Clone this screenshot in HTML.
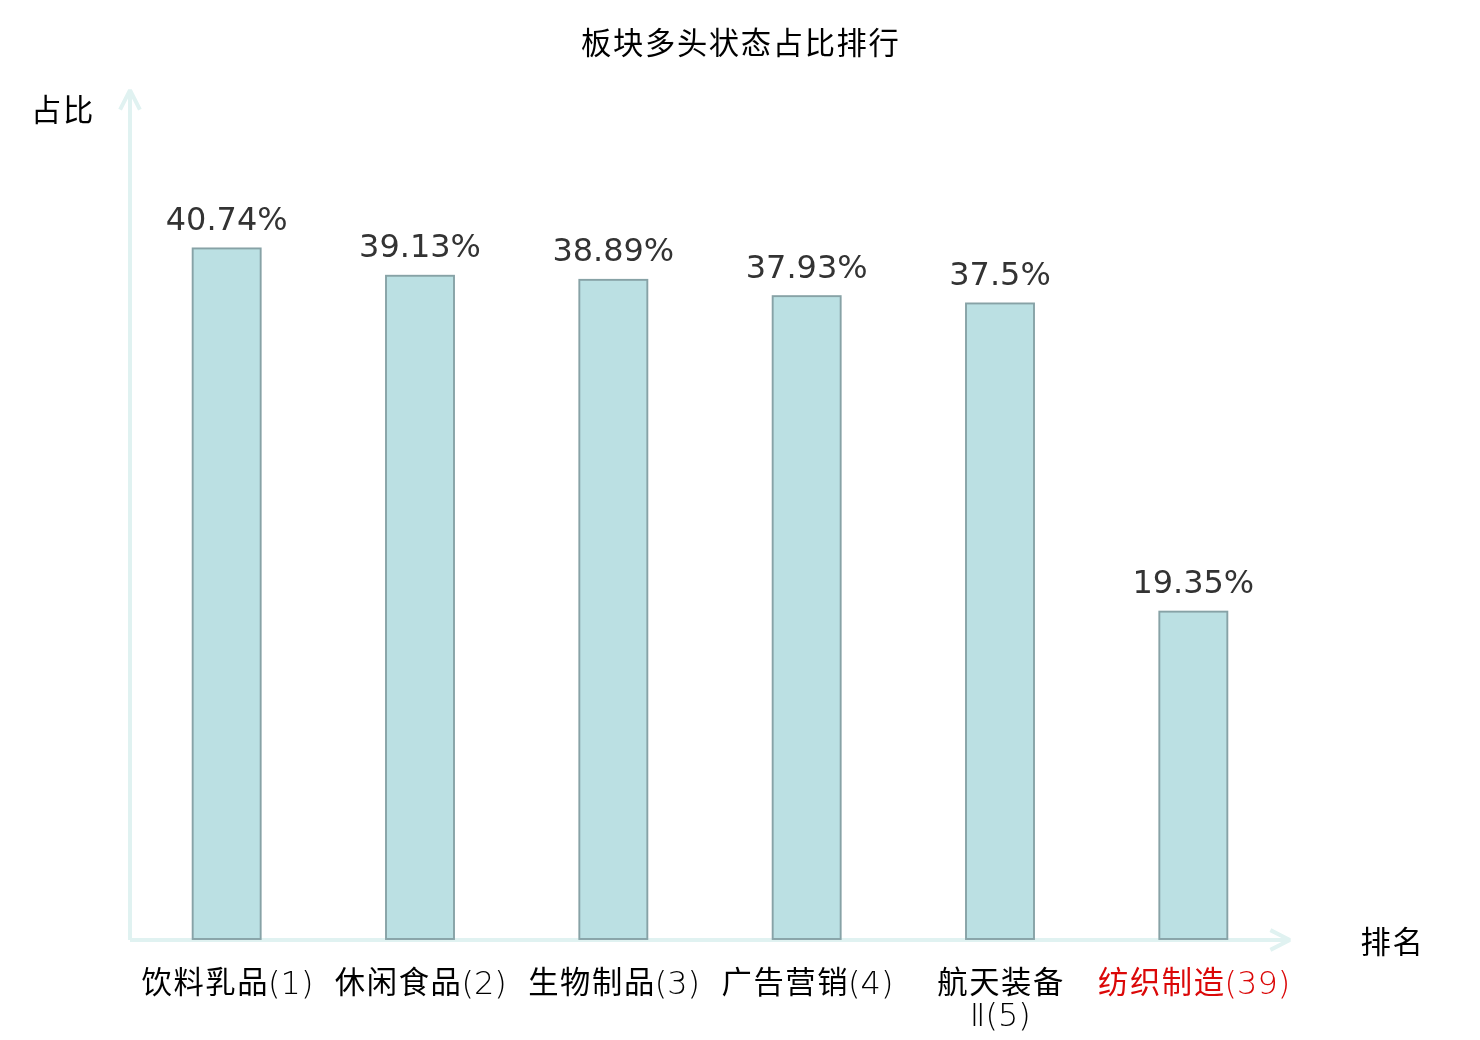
<!DOCTYPE html>
<html lang="zh-CN">
<head>
<meta charset="utf-8">
<title>板块多头状态占比排行</title>
<style>
html,body{margin:0;padding:0;background:#fff;}
body{width:1480px;height:1040px;overflow:hidden;position:relative;}
svg{position:absolute;left:0;top:0;display:block;}
.cjk{font-family:"Liberation Sans","Noto Sans CJK SC","WenQuanYi Zen Hei",sans-serif;font-size:30.30px;letter-spacing:1.64px;fill:#000;}
.lat{font-family:"DejaVu Sans","Liberation Sans",sans-serif;font-weight:200;font-size:31.94px;fill:#000;}
.val{font-family:"DejaVu Sans","Liberation Sans",sans-serif;font-size:31.94px;fill:#333;text-anchor:middle;}
.bar{fill:#bbe0e3;stroke:#87a2a6;stroke-width:1.9;}
.ax{stroke:#e0f2f1;stroke-width:4;fill:none;}
.red .cjk,.red .lat{fill:#db0808;}
</style>
</head>
<body>
<svg width="1480" height="1040" viewBox="0 0 1480 1040">
  <g class="ax">
    <line x1="130" y1="940" x2="130" y2="90.2"/>
    <polyline points="120.1,109.6 130,90.2 139.9,109.6" stroke-linecap="butt" stroke-linejoin="bevel"/>
    <line x1="130" y1="940" x2="1289.8" y2="940"/>
    <polyline points="1270.4,930.1 1289.8,940 1270.4,949.9" stroke-linecap="butt" stroke-linejoin="bevel"/>
  </g>
  <g class="bar">
    <rect x="192.67" y="248.43" width="68.00" height="690.57"/>
    <rect x="386.00" y="275.77" width="68.00" height="663.23"/>
    <rect x="579.33" y="279.85" width="68.00" height="659.15"/>
    <rect x="772.67" y="296.15" width="68.00" height="642.85"/>
    <rect x="966.00" y="303.45" width="68.00" height="635.55"/>
    <rect x="1159.33" y="611.64" width="68.00" height="327.36"/>
  </g>
  <g class="val">
    <text x="226.67" y="230">40.74%</text>
    <text x="420.00" y="257">39.13%</text>
    <text x="613.33" y="261">38.89%</text>
    <text x="806.67" y="278">37.93%</text>
    <text x="1000.00" y="285">37.5%</text>
    <text x="1193.33" y="593">19.35%</text>
  </g>
  <text class="cjk" x="581.12" y="53.60">板块多头状态占比排行</text>
  <text class="cjk" x="31.08" y="121.20">占比</text>
  <text class="cjk" x="1360.48" y="953.30">排名</text>
  <g>
    <text x="141.49" y="992.90"><tspan class="cjk">饮料乳品</tspan><tspan class="lat" dx="-1.12" dy="0.6">(1)</tspan></text>
  </g>
  <g>
    <text x="334.82" y="992.90"><tspan class="cjk">休闲食品</tspan><tspan class="lat" dx="-1.12" dy="0.6">(2)</tspan></text>
  </g>
  <g>
    <text x="528.15" y="992.90"><tspan class="cjk">生物制品</tspan><tspan class="lat" dx="-1.12" dy="0.6">(3)</tspan></text>
  </g>
  <g>
    <text x="721.49" y="992.90"><tspan class="cjk">广告营销</tspan><tspan class="lat" dx="-1.12" dy="0.6">(4)</tspan></text>
  </g>
  <g>
    <text class="cjk" x="937.24" y="992.90">航天装备</text>
    <text class="lat" x="969.82" y="1025.90">Ⅱ(5)</text>
  </g>
  <g class="red">
    <text x="1097.99" y="992.90"><tspan class="cjk">纺织制造</tspan><tspan class="lat" dx="-1.12" dy="0.6">(39)</tspan></text>
  </g>
</svg>
</body>
</html>
